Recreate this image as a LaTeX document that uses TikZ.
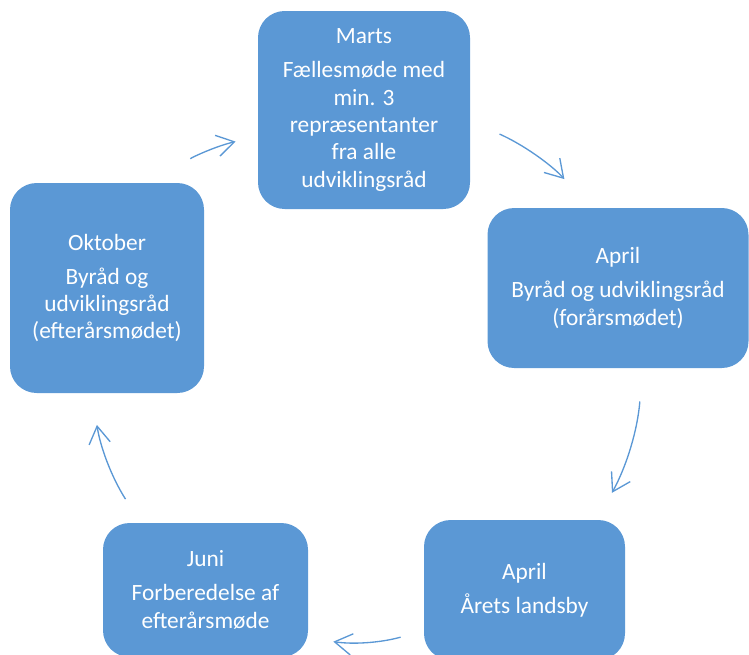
\documentclass[tikz,border=0pt]{standalone}
\usepackage{fontspec}
\setmainfont{Carlito}
\usetikzlibrary{arrows.meta}
\definecolor{boxblue}{RGB}{91,152,213}
\newcommand{\mon}[1]{#1\\[5pt]}

\begin{document}
\begin{tikzpicture}[x=0.75pt,y=-0.75pt,
	box/.style={rectangle, rounded corners=20pt, fill=boxblue, text=white, align=center, inner sep=0pt, font=\fontsize{17.5}{20.5}\selectfont},
	cyc/.style={draw=boxblue, line width=1pt, -{Straight Barb[length=13pt,width=16pt,line width=1pt]}}]
			%%%%% START %%%%%
			
			\useasboundingbox (0,0) rectangle (749,654);
			\clip (0,0) rectangle (749,654);
			
			\node[box, minimum width=159pt, minimum height=148.5pt] (marts) at (364,110) {\mon{Marts}Fællesmøde med\\min. 3\\repræsentanter\\fra alle\\udviklingsråd};
			\node[box, minimum width=195.75pt, minimum height=120pt] (aprilA) at (618,288) {\mon{April}Byråd og udviklingsråd\\(forårsmødet)};
			\node[box, minimum width=150.75pt, minimum height=105pt] (aprilB) at (524.5,590) {\mon{April}Årets landsby};
			\node[box, minimum width=153.75pt, minimum height=100.5pt] (juni) at (205.5,590) {\mon{Juni}Forberedelse af\\efterårsmøde};
			\node[box, minimum width=145.5pt, minimum height=157.5pt] (oktober) at (107,288) {\mon{Oktober}Byråd og\\udviklingsråd\\(efterårsmødet)};
			
			\draw[cyc, shorten <=30pt, shorten >=17pt] (oktober.64) to[bend left=12] (marts.194);
			\draw[cyc, shorten <=24pt, shorten >=29pt] (marts.354) to[bend left=12] (aprilA.109);
			\draw[cyc, shorten <=25pt, shorten >=23pt] (aprilA.-73) to[bend left=12] (aprilB.44);
			\draw[cyc, shorten <=18pt, shorten >=19pt] (aprilB.202) to[bend left=12] (juni.-25);
			\draw[cyc, shorten <=21pt, shorten >=24pt] (juni.134) to[bend left=12] (oktober.262);
			
			%%%%% END %%%%%
\end{tikzpicture}
\end{document}
